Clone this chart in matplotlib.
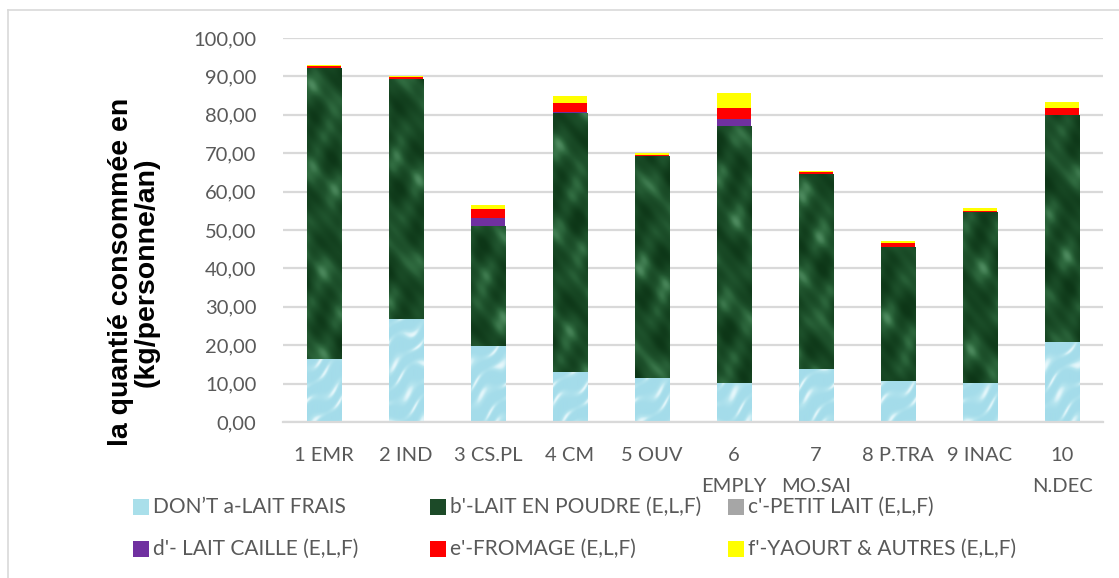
import numpy as np
import matplotlib
matplotlib.use("Agg")
import matplotlib.pyplot as plt
from matplotlib.patches import Rectangle
from matplotlib.lines import Line2D
from matplotlib.colors import LinearSegmentedColormap

categories = ["1 EMR", "2 IND", "3 CS.PL", "4 CM", "5 OUV",
              "6\nEMPLY", "7\nMO.SAI", "8 P.TRA", "9 INAC", "10\nN.DEC"]
lait_frais = [16.4, 26.8, 19.8, 13.0, 11.5, 10.2, 13.8, 10.7, 10.2, 20.8]
lait_poudre = [75.8, 62.5, 31.2, 67.4, 57.7, 67.0, 50.7, 34.9, 44.5, 59.2]
petit_lait = [0.0, 0.0, 0.0, 0.0, 0.0, 0.0, 0.0, 0.0, 0.0, 0.0]
lait_caille = [0.0, 0.0, 2.1, 0.35, 0.0, 1.75, 0.2, 0.0, 0.0, 0.0]
fromage = [0.4, 0.6, 2.3, 2.3, 0.4, 2.9, 0.45, 1.0, 0.3, 1.8]
yaourt = [0.3, 0.2, 1.0, 1.9, 0.4, 3.9, 0.15, 0.5, 0.6, 1.6]

series_labels = ["DON\u2019T a-LAIT FRAIS", "b'-LAIT EN POUDRE (E,L,F)",
                 "c'-PETIT LAIT (E,L,F)", "d'- LAIT CAILLE (E,L,F)",
                 "e'-FROMAGE (E,L,F)", "f'-YAOURT & AUTRES (E,L,F)"]
series_colors = ["#a9dfea", "#1c4a28", "#a6a6a6", "#7030a0", "#ff0000", "#ffff00"]

W, H = 1119, 578
fig = plt.figure(figsize=(W / 100, H / 100), dpi=100)
ax_left, ax_right, ax_top, ax_bot = 283, 1103, 38, 422
ax = fig.add_axes([ax_left / W, (H - ax_bot) / H, (ax_right - ax_left) / W, (ax_bot - ax_top) / H])

TXT = "#595959"
FONT = "Lato"
FS = 14.5

ax.set_ylim(0, 100)
ax.set_xlim(-0.5, len(categories) - 0.5)
ax.set_yticks(np.arange(0, 101, 10))
ax.set_yticklabels([f"{v:.2f}".replace(".", ",") for v in np.arange(0, 101, 10)],
                   fontsize=FS, color=TXT, family=FONT)
ax.yaxis.grid(True, color="#d9d9d9", linewidth=1.6)
ax.set_axisbelow(True)
for s in ["left", "right", "top"]:
    ax.spines[s].set_visible(False)
ax.spines["bottom"].set_color("#d9d9d9")
ax.spines["bottom"].set_linewidth(1.6)
ax.tick_params(axis="both", length=0)
ax.tick_params(axis="y", pad=19)
ax.tick_params(axis="x", pad=18)

x = np.arange(len(categories))
ax.set_xticks(x)
ax.set_xticklabels(categories, fontsize=FS, color=TXT, family=FONT, linespacing=2.0,
                   va="top")

width = 0.415
stack = [lait_frais, lait_poudre, petit_lait, lait_caille, fromage, yaourt]
bottom = np.zeros(len(categories))
containers = []
for vals, col in zip(stack, series_colors):
    vals = np.asarray(vals)
    bc = ax.bar(x, vals, width, bottom=bottom, color=col, linewidth=0, zorder=2)
    containers.append(bc)
    bottom = bottom + vals

px_per_unit = (ax_bot - ax_top) / 100.0
bar_px = width * (ax_right - ax_left) / len(categories)


def cloud(wpx, hpx, phase):
    """Soft mottled field on a pixel grid, values in 0..1."""
    u = np.arange(wpx)[None, :].astype(float)
    v = np.arange(hpx)[:, None].astype(float)
    t = (np.sin(u / 9.0 + v / 14.0 + phase)
         + 0.9 * np.sin(u / 6.0 - v / 11.0 + 2.1 * phase)
         + 0.7 * np.sin(u / 13.0 + v / 7.0 + 3.3 * phase)
         + 0.5 * np.sin(-u / 4.0 + v / 19.0 + 0.7 * phase)
         + 0.35 * np.sin(u / 2.6 + v / 3.1 + 1.9 * phase))
    t = (t - t.min()) / (t.max() - t.min())
    return t


def ripple(wpx, hpx, phase):
    """Diagonal watery streaks, values in 0..1."""
    u = np.arange(wpx)[None, :].astype(float)
    v = np.arange(hpx)[:, None].astype(float)
    d = u * 0.8 - v + 4 * np.sin(u / 7.0 + v / 15.0 + phase) + 3 * np.sin(v / 9.0 - u / 5.0)
    t = 0.5 + 0.5 * np.sin(d / 3.2)
    t = t ** 3 * (0.6 + 0.4 * np.sin(u / 5.0 + v / 11.0 + phase))
    return np.clip(t, 0, 1)


blue_cmap = LinearSegmentedColormap.from_list("water", ["#a4dcea", "#b6e5ef", "#e6f7fb"])
green_cmap = LinearSegmentedColormap.from_list(
    "marble", ["#0d3617", "#164522", "#1f532d", "#2f6a3f", "#4d8a5e"])

for ci in (0, 1):
    for i, rect in enumerate(containers[ci].patches):
        x0, y0 = rect.get_x(), rect.get_y()
        w, h = rect.get_width(), rect.get_height()
        hpx = max(int(round(h * px_per_unit)), 4)
        wpx = int(round(bar_px))
        if ci == 0:
            img = ripple(wpx, hpx, 1.7 * i)
            cmap = blue_cmap
        else:
            img = cloud(wpx, hpx, 1.3 * i) ** 1.4
            cmap = green_cmap
        im = ax.imshow(img, cmap=cmap, vmin=0, vmax=1, extent=(x0, x0 + w, y0, y0 + h),
                       aspect="auto", origin="lower", zorder=2.5, interpolation="bilinear")
        im.set_clip_path(rect)

ax.set_xlim(-0.5, len(categories) - 0.5)
ax.set_ylim(0, 100)

fig.text(134 / W, 1 - 272 / H, "la quanti\u00e9 consomm\u00e9e en\n(kg/personne/an)",
         rotation=90, ha="center", va="center", fontsize=20.5, fontweight="bold",
         family="Liberation Sans", color="black", linespacing=0.95)

# legend
leg_cols = [133, 430, 728]
leg_rows = [507, 549]
for k, (lab, col) in enumerate(zip(series_labels, series_colors)):
    cx = leg_cols[k % 3]
    cy = leg_rows[k // 3]
    fig.add_artist(Rectangle((cx / W, 1 - (cy + 8) / H), 16 / W, 16 / H,
                             transform=fig.transFigure, facecolor=col, edgecolor="none"))
    fig.text((cx + 20) / W, 1 - cy / H, lab, ha="left", va="center",
             fontsize=15, color=TXT, family=FONT)

# outer chart frame
fig.add_artist(Line2D([8 / W, 8 / W], [0, 1 - 10 / H], transform=fig.transFigure,
                      color="#d9d9d9", linewidth=1.2))
fig.add_artist(Line2D([8 / W, 1], [1 - 10 / H, 1 - 10 / H], transform=fig.transFigure,
                      color="#d9d9d9", linewidth=1.2))

fig.savefig("out.png", dpi=100)
